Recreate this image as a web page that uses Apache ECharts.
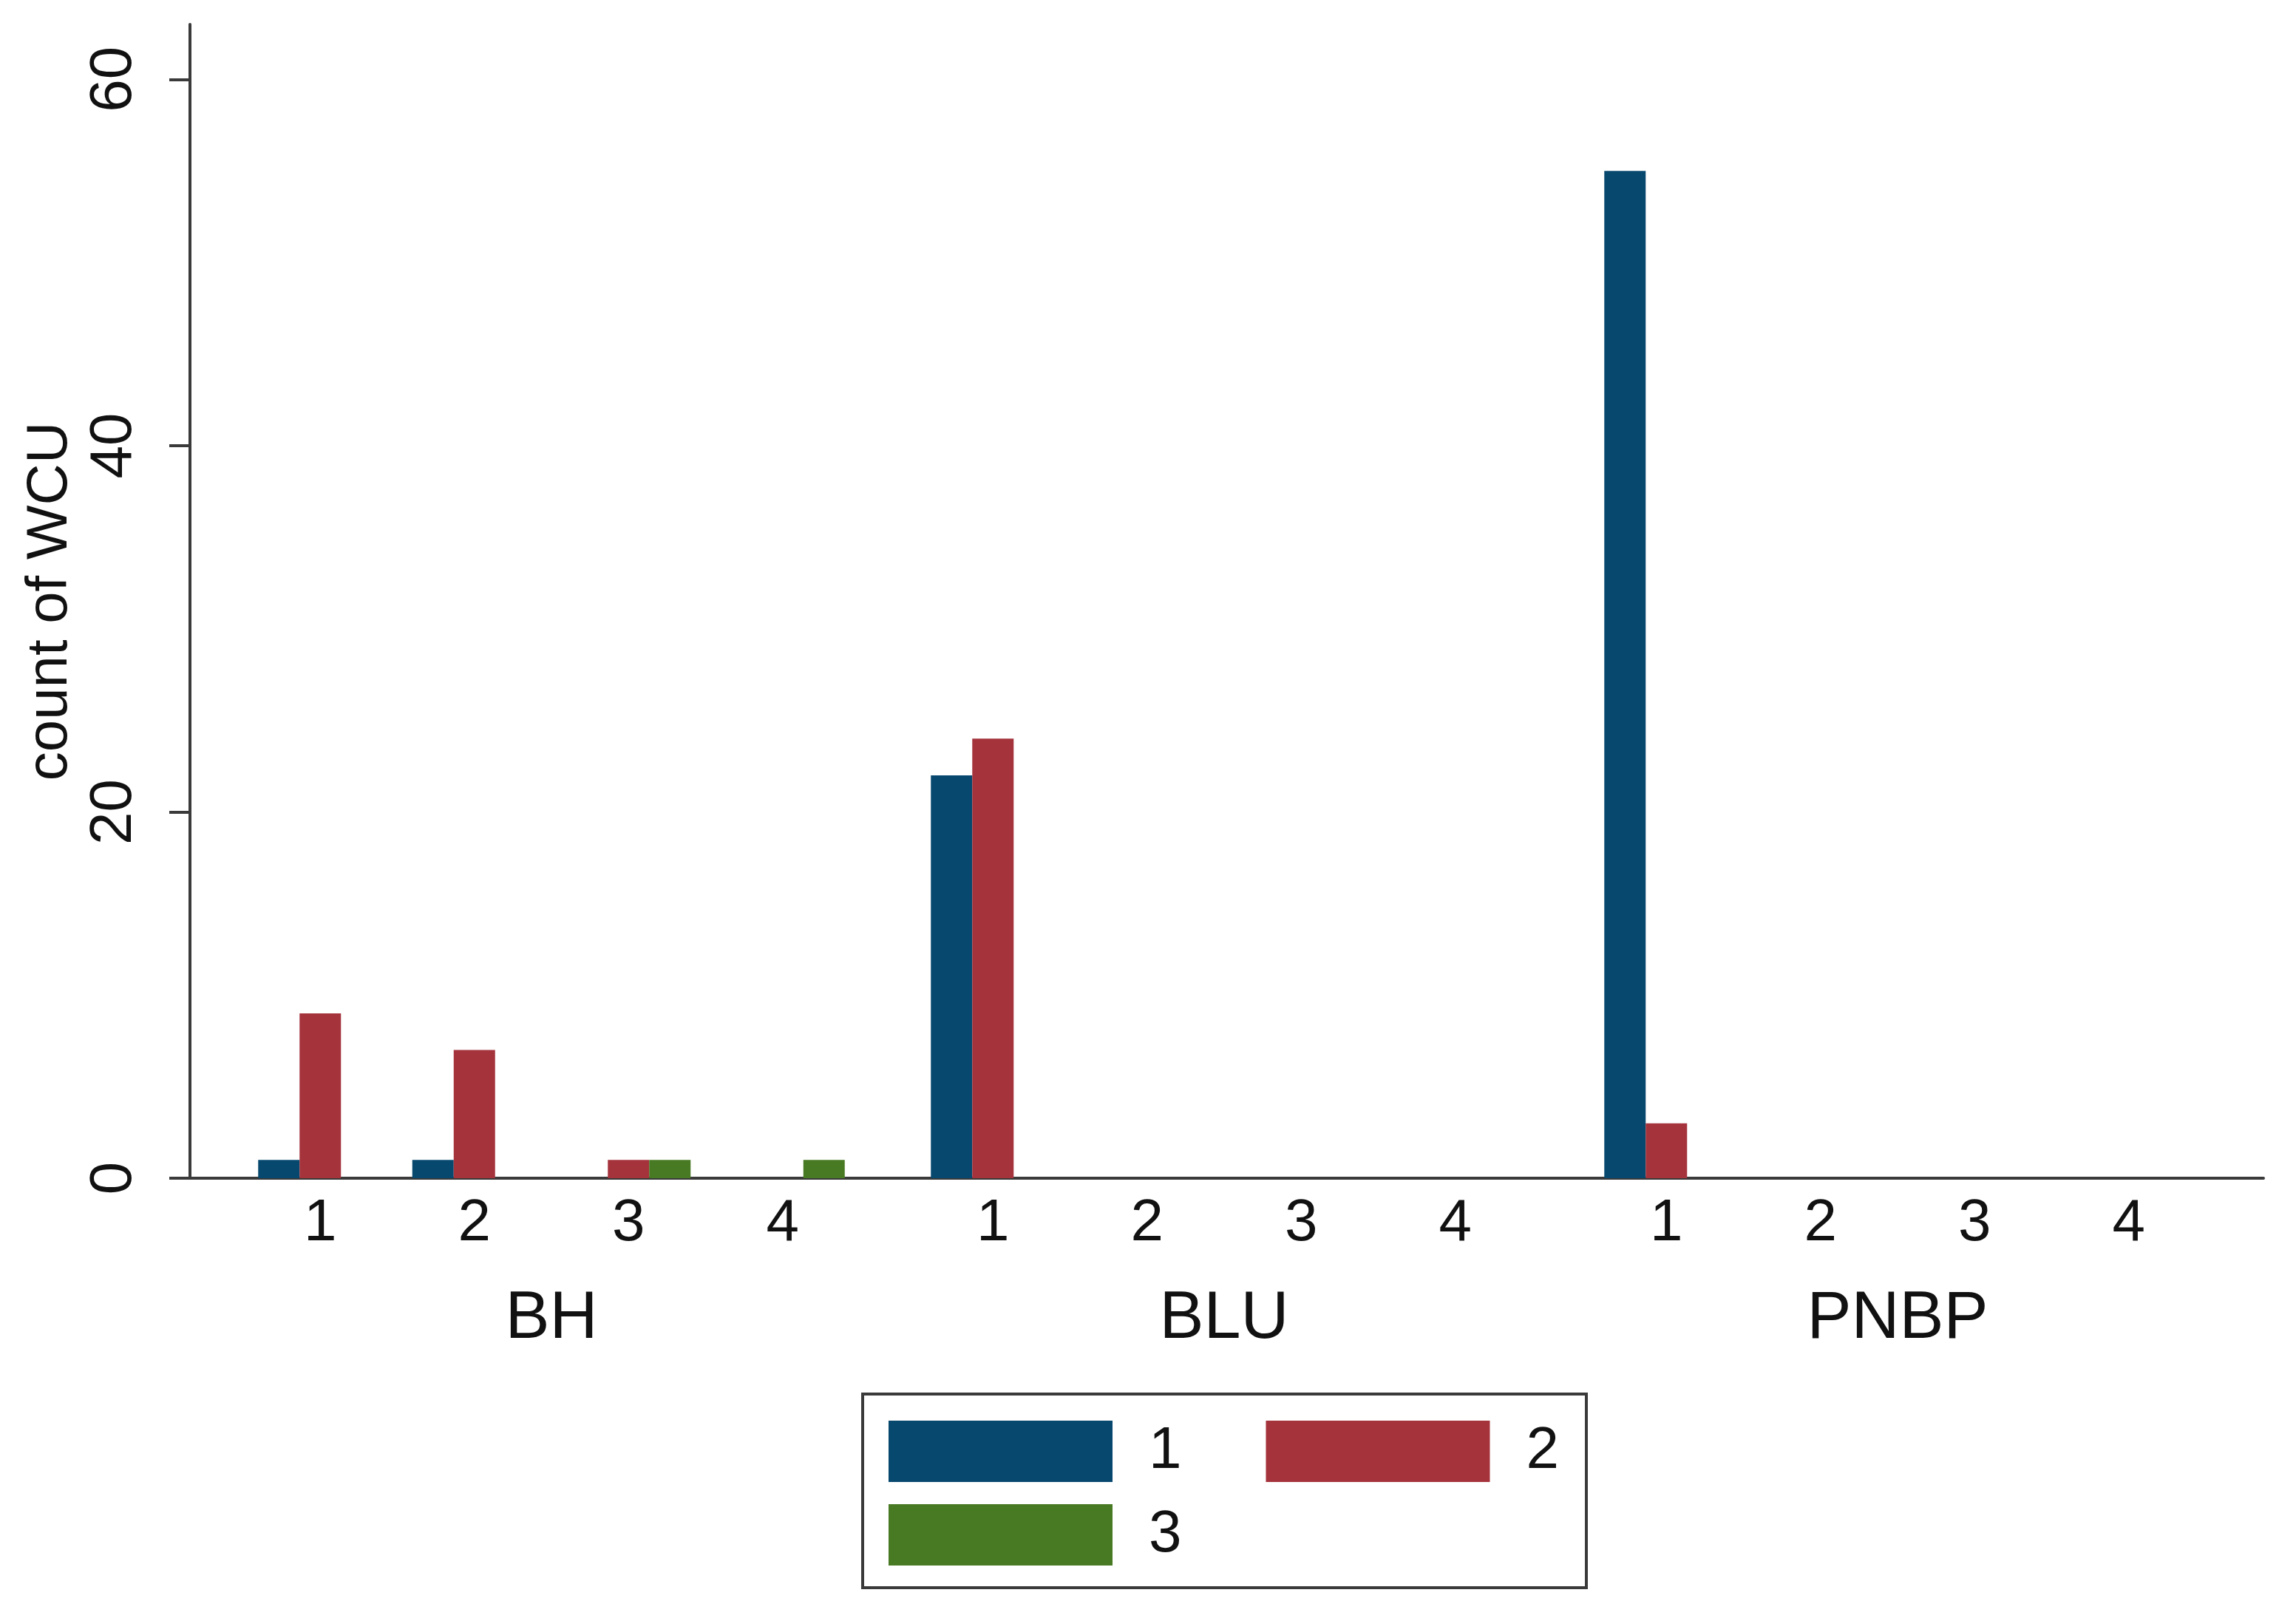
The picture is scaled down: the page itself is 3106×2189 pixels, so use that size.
<!DOCTYPE html>
<html>
<head>
<meta charset="utf-8">
<script src="https://cdn.jsdelivr.net/npm/echarts@6/dist/echarts.min.js"></script>
<style>
html,body{margin:0;padding:0;background:#fff;}
#chart{width:3106px;height:2189px;}
</style>
</head>
<body>
<div id="chart"></div>
<script>
// ---- data ----
const groups = ['BH', 'BLU', 'PNBP'];
const subcats = ['1', '2', '3', '4'];
const seriesNames = ['1', '2', '3'];
const BH_1 = [1, 1, 0, 0];
const BH_2 = [9, 7, 1, 0];
const BH_3 = [0, 0, 1, 1];
const BLU_1 = [22, 0, 0, 0];
const BLU_2 = [24, 0, 0, 0];
const BLU_3 = [0, 0, 0, 0];
const PNBP_1 = [55, 0, 0, 0];
const PNBP_2 = [3, 0, 0, 0];
const PNBP_3 = [0, 0, 0, 0];
const yTicks = [0, 20, 40, 60];
const yTitle = 'count of WCU';

// ---- layout / style ----
const groupData = [[BH_1, BH_2, BH_3], [BLU_1, BLU_2, BLU_3], [PNBP_1, PNBP_2, PNBP_3]];
const colors = ['#07486f', '#a5333c', '#487a24'];
const FONT = 'Liberation Sans';
const TXT = '#111';
const AX = '#3a3a3a';
const plotTop = 33, plotBottom = 1594, plotLeft = 257, plotRight = 3062;
const plotH = plotBottom - plotTop;
const groupLefts = [329, 1239, 2150];
const groupW = 834;
const YMAX = 63;

const grids = [{left: plotLeft, top: plotTop, width: plotRight - plotLeft, height: plotH}];
groupLefts.forEach(l => grids.push({left: l, top: plotTop, width: groupW, height: plotH}));

const xAxes = [{
  gridIndex: 0, type: 'value', min: 0, max: 1,
  axisLine: {show: true, onZero: false, lineStyle: {color: AX, width: 4}},
  axisTick: {show: false}, axisLabel: {show: false}, splitLine: {show: false}
}];
const yAxes = [{
  gridIndex: 0, type: 'value', min: 0, max: YMAX,
  axisLine: {show: true, lineStyle: {color: AX, width: 4}},
  axisTick: {show: true, length: 28, customValues: yTicks, lineStyle: {color: AX, width: 4}},
  axisLabel: {show: true, customValues: yTicks, rotate: 90, margin: 62,
    fontFamily: FONT, fontSize: 80, color: TXT},
  splitLine: {show: false},
  name: yTitle, nameLocation: 'middle', nameGap: 146, nameRotate: 90,
  nameTextStyle: {fontFamily: FONT, fontSize: 78, color: TXT}
}];
groups.forEach((g, i) => {
  xAxes.push({
    gridIndex: i + 1, type: 'category', data: subcats,
    axisLine: {show: false}, axisTick: {show: false},
    axisLabel: {show: true, margin: 22, fontFamily: FONT, fontSize: 80, color: TXT},
    splitLine: {show: false},
    name: g, nameLocation: 'middle', nameGap: 146,
    nameTextStyle: {fontFamily: FONT, fontSize: 90, color: TXT}
  });
  yAxes.push({
    gridIndex: i + 1, type: 'value', min: 0, max: YMAX, show: false, splitLine: {show: false}
  });
});

const series = [];
groupData.forEach((arrs, gi) => {
  arrs.forEach((vals, si) => {
    series.push({
      type: 'bar', name: seriesNames[si], xAxisIndex: gi + 1, yAxisIndex: gi + 1,
      data: vals, barWidth: 56, barGap: '0%',
      itemStyle: {color: colors[si]}, silent: true
    });
  });
});

const legendCommon = {
  orient: 'horizontal', padding: 0, icon: 'rect', itemWidth: 303, itemHeight: 83,
  itemGap: 114, selectedMode: false,
  textStyle: {fontFamily: FONT, fontSize: 80, color: TXT, padding: [0, 0, 0, 44]}
};

const option = {
  backgroundColor: '#fff',
  animation: false,
  color: colors,
  grid: grids,
  xAxis: xAxes,
  yAxis: yAxes,
  series: series,
  legend: [
    Object.assign({}, legendCommon, {left: 1202, top: 1922, data: ['1', '2']}),
    Object.assign({}, legendCommon, {left: 1202, top: 2035, data: ['3']})
  ],
  graphic: [{
    type: 'rect', left: 1165, top: 1884, z: -1,
    shape: {width: 979, height: 262},
    style: {fill: '#fff', stroke: '#3a3a3a', lineWidth: 4}
  }]
};

const chart = echarts.init(document.getElementById('chart'), null, {renderer: 'canvas'});
chart.setOption(option);
</script>
</body>
</html>
